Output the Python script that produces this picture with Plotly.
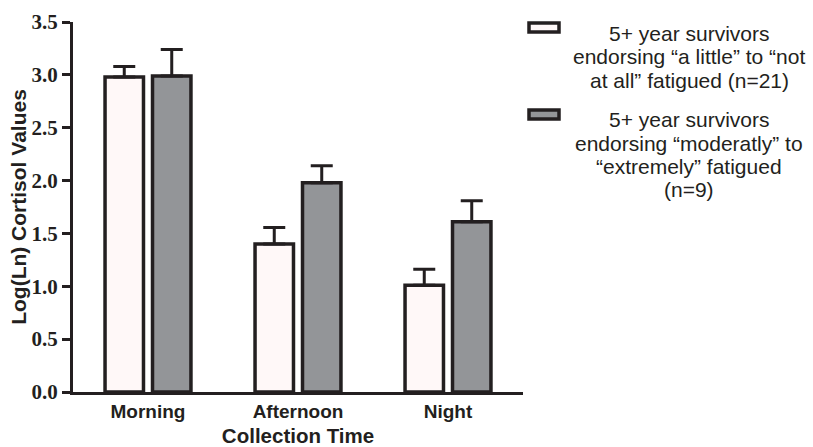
import plotly.graph_objects as go

categories = ["Morning", "Afternoon", "Night"]
low_fatigue = [2.98, 1.40, 1.01]
low_fatigue_err = [0.10, 0.155, 0.15]
high_fatigue = [2.99, 1.98, 1.61]
high_fatigue_err = [0.25, 0.16, 0.20]
y_ticks = [0.0, 0.5, 1.0, 1.5, 2.0, 2.5, 3.0, 3.5]

legend_low = ["5+ year survivors", "endorsing \u201ca little\u201d to \u201cnot", "at all\u201d fatigued (n=21)"]
legend_high = ["5+ year survivors", "endorsing \u201cmoderatly\u201d to", "\u201cextremely\u201d fatigued", "(n=9)"]

INK = "#231f20"
WHITE_FILL = "#fff8f8"
GRAY_FILL = "#939598"

W, H = 813, 447
L, R, T, B = 73, 290, 22, 55
PW, PH = W - L - R, H - T - B

def px(x):
    return (x - L) / PW

def py(y):
    return (H - B - y) / PH

fig = go.Figure()
for name, vals, errs, fill in [
    ("low", low_fatigue, low_fatigue_err, WHITE_FILL),
    ("high", high_fatigue, high_fatigue_err, GRAY_FILL),
]:
    fig.add_trace(go.Bar(
        x=categories, y=vals, name=name,
        marker=dict(color=fill, line=dict(color=INK, width=3.5)),
        error_y=dict(type="data", symmetric=False, array=errs,
                     arrayminus=[0] * len(errs), color=INK, thickness=3, width=11),
        showlegend=False, hoverinfo="skip",
    ))

# legend drawn as boxes + centred text
legend_font = dict(family="Liberation Sans, Arial", size=21, color=INK)
box_x0, box_x1 = 529, 559
for (y0, y1), fill in [((23, 32), WHITE_FILL), ((110, 119), GRAY_FILL)]:
    fig.add_shape(type="rect", xref="paper", yref="paper",
                  x0=px(box_x0), x1=px(box_x1), y0=py(y1), y1=py(y0),
                  fillcolor=fill, line=dict(color=INK, width=3.5))

text_cx = 689
for lines, start in [(legend_low, 33.5), (legend_high, 120)]:
    for i, line in enumerate(lines):
        fig.add_annotation(text=line, xref="paper", yref="paper",
                           x=px(text_cx), y=py(start + i * 23.3),
                           xanchor="center", yanchor="middle",
                           showarrow=False, font=legend_font)

fig.update_layout(
    template="none",
    width=W, height=H,
    margin=dict(l=L, r=R, t=T, b=B, pad=0, autoexpand=False),
    paper_bgcolor="white", plot_bgcolor="white",
    barmode="group", bargap=0.367, bargroupgap=0.19,
    xaxis=dict(
        automargin=False,
        range=[-0.5, 2.5], showline=True, linecolor=INK, linewidth=3,
        ticks="", showgrid=False, zeroline=False,
        tickfont=dict(family="Liberation Sans, Arial", size=19, color=INK, weight="bold"),
        title=dict(text="Collection Time", standoff=18,
                   font=dict(family="Liberation Sans, Arial", size=20.5, color=INK, weight="bold")),
    ),
    yaxis=dict(
        automargin=False,
        range=[0, 3.5], tickvals=y_ticks, tickformat=".1f",
        showline=True, linecolor=INK, linewidth=3,
        ticks="outside", ticklen=8, tickwidth=3, tickcolor=INK,
        showgrid=False, zeroline=False,
        tickfont=dict(family="Liberation Serif, Times New Roman", size=21, color=INK, weight="bold"),
        title=dict(text="Log(Ln) Cortisol Values", standoff=0,
                   font=dict(family="Liberation Sans, Arial", size=21, color=INK, weight="bold")),
    ),
)

fig.write_html(
    "out.html",
    config={"displayModeBar": False, "staticPlot": True},
    post_script="document.body.style.margin='0';document.body.style.overflow='hidden';",
)
